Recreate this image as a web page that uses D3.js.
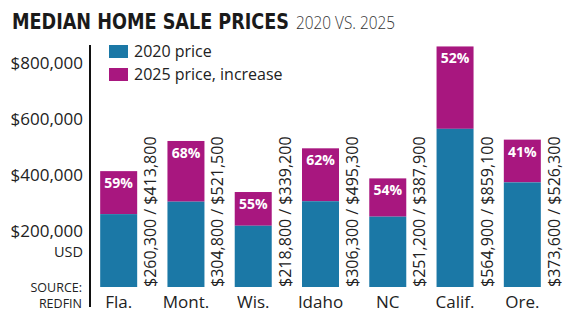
<!DOCTYPE html>
<html>
<head>
<meta charset="utf-8">
<script src="https://cdn.jsdelivr.net/npm/d3@7"></script>
<style>
  body { margin: 0; background: #fff; }
  svg { display: block; font-family: "Open Sans", sans-serif; }
</style>
</head>
<body>
<svg id="chart" width="583" height="326"></svg>
<script>
// Data
const states = ['Fla.', 'Mont.', 'Wis.', 'Idaho', 'NC', 'Calif.', 'Ore.'];
const price2020 = [260300, 304800, 218800, 306300, 251200, 564900, 373600];
const price2025 = [413800, 521500, 339200, 495300, 387900, 859100, 526300];
const increase = ['59%', '68%', '55%', '62%', '54%', '52%', '41%'];
const yTicks = [200000, 400000, 600000, 800000];

const BLUE = '#1b78a6', PURPLE = '#a8177f';

const svg = d3.select('#chart');
const base = 287;

const x = d3.scaleBand().domain(states).range([80, 561]).paddingInner(0.45).paddingOuter(0.3);
const y = d3.scaleLinear().domain([0, 800000]).range([base, 63]);
const fmt = d3.format('$,');

// Title
svg.append('text').attr('x', 12).attr('y', 29)
    .attr('textLength', 277).attr('lengthAdjust', 'spacingAndGlyphs')
    .style('font-family', '"DejaVu Sans Condensed", "Open Sans", sans-serif')
    .style('font-weight', 700).style('font-size', '21px').style('fill', '#1a1a1a')
    .text('MEDIAN HOME SALE PRICES');
svg.append('text').attr('x', 296).attr('y', 29)
    .attr('textLength', 99).attr('lengthAdjust', 'spacingAndGlyphs')
    .style('font-weight', 300).style('font-size', '19px').style('fill', '#333')
    .text('2020 VS. 2025');

// Y tick labels
svg.append('g').selectAll('text').data(yTicks).join('text')
    .attr('x', 83).attr('y', d => y(d) + 6)
    .attr('text-anchor', 'end')
    .style('font-size', '17px').style('fill', '#222')
    .text(d => fmt(d));

svg.append('text').attr('x', 83).attr('y', 257).attr('text-anchor', 'end')
    .style('font-size', '14.5px').style('fill', '#222').text('USD');
svg.append('text').attr('x', 82).attr('y', 292).attr('text-anchor', 'end')
    .style('font-size', '12.5px').style('fill', '#222').text('SOURCE:');
svg.append('text').attr('x', 82).attr('y', 308).attr('text-anchor', 'end')
    .style('font-size', '12.5px').style('fill', '#222').text('REDFIN');

// Axis line
svg.append('line').attr('x1', 90).attr('x2', 90).attr('y1', 45).attr('y2', 307)
    .attr('stroke', '#111').attr('stroke-width', 2);

// Bars
const g = svg.append('g').selectAll('g').data(states).join('g');

g.append('rect')
    .attr('x', d => x(d)).attr('width', x.bandwidth())
    .attr('y', (d, i) => y(price2025[i]))
    .attr('height', (d, i) => y(price2020[i]) - y(price2025[i]))
    .attr('fill', PURPLE);

g.append('rect')
    .attr('x', d => x(d)).attr('width', x.bandwidth())
    .attr('y', (d, i) => y(price2020[i]))
    .attr('height', (d, i) => base - y(price2020[i]))
    .attr('fill', BLUE);

g.append('text')
    .attr('x', d => x(d) + x.bandwidth() / 2)
    .attr('y', (d, i) => y(price2025[i]) + 17)
    .attr('text-anchor', 'middle')
    .style('font-size', '14px').style('font-weight', 700).style('fill', '#fff')
    .text((d, i) => increase[i]);

// Rotated value labels
g.append('text')
    .attr('transform', d => `translate(${x(d) + x.bandwidth() + 19},${base}) rotate(-90)`)
    .style('font-size', '16px').style('fill', '#222')
    .text((d, i) => `${fmt(price2020[i])} / ${fmt(price2025[i])}`);

// Category labels
g.append('text')
    .attr('x', d => x(d) + x.bandwidth() / 2)
    .attr('y', 308)
    .attr('text-anchor', 'middle')
    .style('font-size', '17px').style('fill', '#222')
    .text(d => d);

// Legend
const legend = svg.append('g');
[['2020 price', BLUE], ['2025 price, increase', PURPLE]].forEach(([label, c], i) => {
    legend.append('rect').attr('x', 109).attr('y', 45 + i * 23).attr('width', 19).attr('height', 13).attr('fill', c);
    legend.append('text').attr('x', 134).attr('y', 57 + i * 23)
        .style('font-size', '16px').style('fill', '#222').text(label);
});
</script>
</body>
</html>
